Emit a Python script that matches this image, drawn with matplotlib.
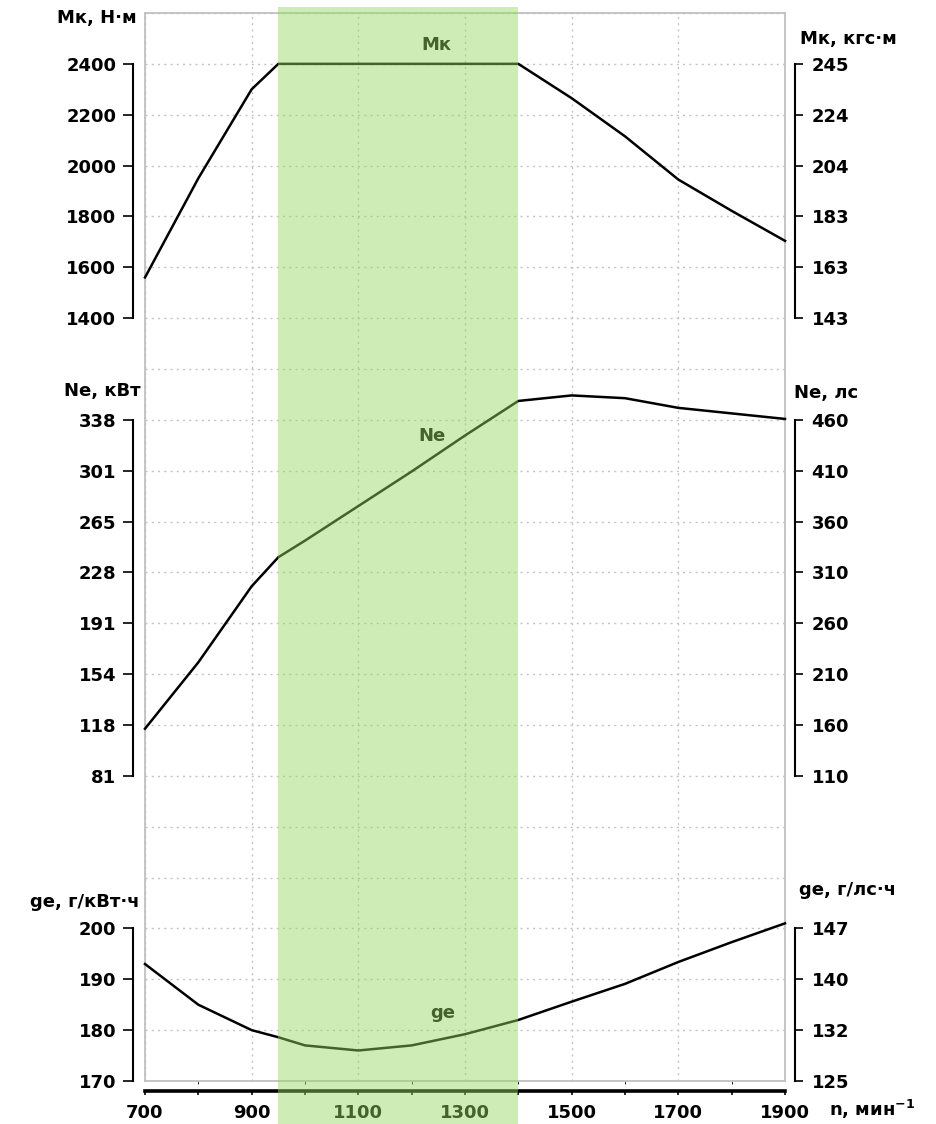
import matplotlib.pyplot as plt

plt.rcParams['font.family'] = ['DejaVu Sans']
plt.rcParams['font.weight'] = 'bold'

# ---- Data
rpm = [700, 800, 900, 950, 1000, 1100, 1200, 1300, 1400, 1500, 1600, 1700, 1800, 1900]
torque_nm = [1560, 1950, 2300, 2400, 2400, 2400, 2400, 2400, 2400, 2265, 2115, 1945, 1822, 1704]
power_kw = [115, 163, 218, 239, 251, 276, 301, 327, 352, 356, 354, 347, 343, 339]
fuel_g_kwh = [193, 185, 180, 178.6, 177, 176, 177, 179.2, 182, 185.6, 189.1, 193.4, 197.3, 201]

# Tick values / labels
mk_ticks = [1400, 1600, 1800, 2000, 2200, 2400]
mk_right_labels = ['143', '163', '183', '204', '224', '245']
ne_hp_ticks = [110, 160, 210, 260, 310, 360, 410, 460]
ne_kw_labels = ['81', '118', '154', '191', '228', '265', '301', '338']
ne_hp_labels = ['110', '160', '210', '260', '310', '360', '410', '460']
ge_ticks = [170, 180, 190, 200]
ge_left_labels = ['170', '180', '190', '200']
ge_right_labels = ['125', '132', '140', '147']
x_labels = [700, 900, 1100, 1300, 1500, 1700, 1900]
band = (950, 1400)

HP_KW = 0.7355
FW, FH = 937, 1124
L, B, W, H = 145 / FW, 43 / FH, 640 / FW, 1068 / FH
NU = 21  # grid rows

fig = plt.figure(figsize=(FW / 100, FH / 100), dpi=100)

# ---- Main frame with grid
ax = fig.add_axes([L, B, W, H])
ax.set_xlim(700, 1900)
ax.set_ylim(0, NU)
ax.set_xticks(range(700, 1901, 100))
ax.set_yticks(range(NU + 1))
ax.grid(True, color='#c4c4c4', linestyle=(0, (1.5, 3)), linewidth=1)
ax.tick_params(left=False, labelleft=False, bottom=False, labelbottom=False)
for s in ax.spines.values():
    s.set_color('#c0c0c0')
    s.set_linewidth(1.3)

# ---- X axis bar
axx = fig.add_axes([L, B, W, H], sharex=ax)
axx.patch.set_visible(False)
for k in ['top', 'left', 'right']:
    axx.spines[k].set_visible(False)
axx.spines['bottom'].set_position(('outward', 7.2))
axx.spines['bottom'].set_linewidth(2.6)
axx.set_yticks([])
axx.set_xticks(x_labels)
axx.set_xticks(range(800, 1900, 200), minor=True)
axx.tick_params(axis='x', which='both', direction='out', length=3, width=1.2,
                labelsize=13, pad=6)
axx.text(1.068, -0.027, 'n, мин$^{\\mathbf{-1}}$', transform=axx.transAxes,
         fontsize=13, fontweight='bold', ha='left', va='center')


def section(u0, u1, ylim, ticks, left_labels, right_labels):
    a = fig.add_axes([L, B + H * u0 / NU, W, H * (u1 - u0) / NU])
    a.patch.set_visible(False)
    a.set_xlim(700, 1900)
    a.set_ylim(*ylim)
    a.set_xticks([])
    for k in ['top', 'bottom', 'right']:
        a.spines[k].set_visible(False)
    a.spines['left'].set_position(('outward', 8.6))
    a.spines['left'].set_linewidth(1.5)
    a.spines['left'].set_bounds(*ylim)
    a.set_yticks(ticks)
    a.set_yticklabels(left_labels)
    a.tick_params(axis='y', length=7, width=1.2, labelsize=13, pad=5)
    r = a.twinx()
    r.set_ylim(*ylim)
    r.set_xticks([])
    for k in ['top', 'bottom', 'left']:
        r.spines[k].set_visible(False)
    r.spines['right'].set_position(('outward', 7.2))
    r.spines['right'].set_linewidth(1.5)
    r.spines['right'].set_bounds(*ylim)
    r.set_yticks(ticks)
    r.set_yticklabels(right_labels)
    r.tick_params(axis='y', length=6, width=1.2, labelsize=13, pad=6)
    return a


# Torque section
ax_mk = section(15, 20, (1400, 2400), mk_ticks, [str(v) for v in mk_ticks], mk_right_labels)
ax_mk.plot(rpm, torque_nm, color='black', lw=1.8, clip_on=False, solid_joinstyle='round')

# Power section (kW scale, ticks at whole hp)
ne_lim = (ne_hp_ticks[0] * HP_KW, ne_hp_ticks[-1] * HP_KW)
ax_ne = section(6, 13, ne_lim, [v * HP_KW for v in ne_hp_ticks], ne_kw_labels, ne_hp_labels)
ax_ne.plot(rpm, power_kw, color='black', lw=1.8, clip_on=False, solid_joinstyle='round')

# Fuel consumption section
ax_ge = section(0, 3, (170, 200), ge_ticks, ge_left_labels, ge_right_labels)
ax_ge.plot(rpm, fuel_g_kwh, color='black', lw=1.8, clip_on=False, solid_joinstyle='round')

# Curve names
ax.text(1247, 20.37, 'Мк', fontsize=13, fontweight='bold', ha='center', va='center')
ax.text(1238, 12.68, 'Ne', fontsize=13, fontweight='bold', ha='center', va='center')
ax.text(1258, 1.34, 'ge', fontsize=13, fontweight='bold', ha='center', va='center')

# Axis unit titles
def ftext(x, y, s, ha):
    fig.text(x / FW, 1 - y / FH, s, fontsize=13, fontweight='bold', ha=ha, va='center')

ftext(137, 18, 'Мк, Н·м', 'right')
ftext(800, 39, 'Мк, кгс·м', 'left')
ftext(141, 391, 'Ne, кВт', 'right')
ftext(794, 393, 'Ne, лс', 'left')
ftext(139, 902, 'ge, г/кВт·ч', 'right')
ftext(799, 890, 'ge, г/лс·ч', 'left')

# ---- Green overlay band (drawn last, on top)
ov = fig.add_axes([L, B, W, H], sharex=ax)
ov.axis('off')
ov.axvspan(band[0], band[1], ymin=-43 / 1068, ymax=1 + 6 / 1068,
           color='#96d75f', alpha=0.46, lw=0, clip_on=False)

fig.savefig('out.png', dpi=100)
